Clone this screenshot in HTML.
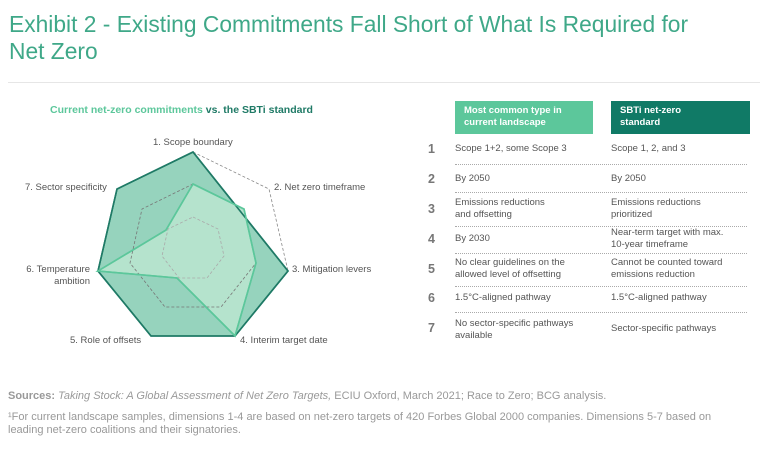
<!DOCTYPE html>
<html><head><meta charset="utf-8"><style>
body{margin:0;width:768px;height:454px;background:#fff;font-family:"Liberation Sans",sans-serif;position:relative;overflow:hidden}
.t{position:absolute;white-space:nowrap}
.h{position:absolute;left:9px;top:11px;font-size:22.8px;line-height:27px;color:#3fa888}
.c{color:#555;font-size:9.5px;line-height:12px}
.n{position:absolute;left:428px;font-size:12.5px;font-weight:bold;color:#777}
.f{position:absolute;left:8px;font-size:11px;color:#999;line-height:13px;white-space:nowrap}
</style></head><body>
<div class="h">Exhibit 2 - Existing Commitments Fall Short of What Is Required for<br>Net Zero</div>
<div style="position:absolute;left:8px;top:82px;width:752px;height:1px;background:#e6e6e6"></div>
<div class="t" style="left:50px;top:104px;font-size:10.5px;font-weight:bold;color:#5cc79b">Current net-zero commitments <span style="color:#1f7a66">vs. the SBTi standard</span></div>
<svg style="position:absolute;left:0;top:0" width="400" height="380">
<polygon points="193,152 288,271 235,336 151,336 98,271 117,189" fill="#96d3bd" stroke="#1f7a66" stroke-width="1.6"/>
<polygon points="193,184 244,209 256,263 235,336 177,278 98,271 166,230" fill="#b5e3cd" stroke="#5cc79b" stroke-width="1.6"/>
<polygon points="193,152 269,189 288,271 235,336 151,336 98,271 117,189" fill="none" stroke="#888" stroke-width="0.8" stroke-dasharray="3,2"/>
<polygon points="193,184 244,209 256,263 221,307 165,307 130,263 142,209" fill="none" stroke="#777" stroke-width="0.8" stroke-dasharray="3,2"/>
<polygon points="193,217 218,229 224,256 207,278 179,278 162,256 168,229" fill="none" stroke="#aaa" stroke-width="0.8" stroke-dasharray="3,2"/>
<polygon points="193,152 288,271 235,336 151,336 98,271 117,189" fill="none" stroke="#1f7a66" stroke-width="1.6"/>
<polygon points="193,184 244,209 256,263 235,336 177,278 98,271 166,230" fill="none" stroke="#5cc79b" stroke-width="1.6"/>
</svg>
<div class="t c" style="left:153px;top:137px">1. Scope boundary</div>
<div class="t c" style="left:274px;top:182px">2. Net zero timeframe</div>
<div class="t c" style="left:292px;top:264px">3. Mitigation levers</div>
<div class="t c" style="left:240px;top:335px">4. Interim target date</div>
<div class="t c" style="left:70px;top:335px">5. Role of offsets</div>
<div class="t c" style="left:23px;top:264px;width:67px;text-align:right">6. Temperature<br>ambition</div>
<div class="t c" style="left:25px;top:182px">7. Sector specificity</div>
<div style="position:absolute;left:455px;top:101px;width:138px;height:33px;background:#5cc79b"></div>
<div style="position:absolute;left:611px;top:101px;width:139px;height:33px;background:#107a66"></div>
<div class="t" style="left:464px;top:105px;font-size:9.5px;line-height:12px;font-weight:bold;color:#fff">Most common type in<br>current landscape</div>
<div class="t" style="left:620px;top:105px;font-size:9.5px;line-height:12px;font-weight:bold;color:#fff">SBTi net-zero<br>standard</div>
<div style="position:absolute;left:455px;top:164px;width:292px;border-top:1px dotted #aaa"></div>
<div style="position:absolute;left:455px;top:192px;width:292px;border-top:1px dotted #aaa"></div>
<div style="position:absolute;left:455px;top:226px;width:292px;border-top:1px dotted #aaa"></div>
<div style="position:absolute;left:455px;top:253px;width:292px;border-top:1px dotted #aaa"></div>
<div style="position:absolute;left:455px;top:286px;width:292px;border-top:1px dotted #aaa"></div>
<div style="position:absolute;left:455px;top:312px;width:292px;border-top:1px dotted #aaa"></div>
<div class="n" style="top:142px">1</div><div class="t c" style="left:455px;top:143px">Scope 1+2, some Scope 3</div><div class="t c" style="left:611px;top:143px">Scope 1, 2, and 3</div>
<div class="n" style="top:172px">2</div><div class="t c" style="left:455px;top:173px">By 2050</div><div class="t c" style="left:611px;top:173px">By 2050</div>
<div class="n" style="top:202px">3</div><div class="t c" style="left:455px;top:197px">Emissions reductions<br>and offsetting</div><div class="t c" style="left:611px;top:197px">Emissions reductions<br>prioritized</div>
<div class="n" style="top:232px">4</div><div class="t c" style="left:455px;top:233px">By 2030</div><div class="t c" style="left:611px;top:227px">Near-term target with max.<br>10-year timeframe</div>
<div class="n" style="top:262px">5</div><div class="t c" style="left:455px;top:257px">No clear guidelines on the<br>allowed level of offsetting</div><div class="t c" style="left:611px;top:257px">Cannot be counted toward<br>emissions reduction</div>
<div class="n" style="top:291px">6</div><div class="t c" style="left:455px;top:292px">1.5°C-aligned pathway</div><div class="t c" style="left:611px;top:292px">1.5°C-aligned pathway</div>
<div class="n" style="top:321px">7</div><div class="t c" style="left:455px;top:318px">No sector-specific pathways<br>available</div><div class="t c" style="left:611px;top:323px">Sector-specific pathways</div>
<div class="f" style="top:390px"><b>Sources:</b> <i>Taking Stock: A Global Assessment of Net Zero Targets,</i> ECIU Oxford, March 2021; Race to Zero; BCG analysis.</div>
<div class="f" style="top:411px">¹For current landscape samples, dimensions 1-4 are based on net-zero targets of 420 Forbes Global 2000 companies. Dimensions 5-7 based on<br>leading net-zero coalitions and their signatories.</div>
</body></html>
